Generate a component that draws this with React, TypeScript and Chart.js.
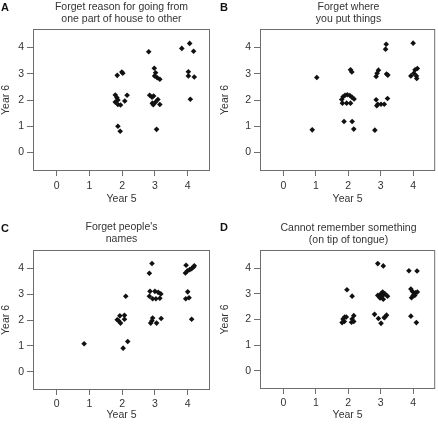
import React, { useEffect, useRef } from "react";
import { Chart, registerables } from "chart.js";

Chart.register(...registerables);

const TICKS = [0, 1, 2, 3, 4];
const X_TITLE = "Year 5";
const Y_TITLE = "Year 6";

const titleA = ["Forget reason for going from", "one part of house to other"];
const titleB = ["Forget where", "you put things"];
const titleC = ["Forget people's", "names"];
const titleD = ["Cannot remember something", "(on tip of tongue)"];

const aX = [2.81, 3.82, 4.06, 4.18, 1.85, 1.99, 2.02, 2.98, 3.02, 2.99, 3.07, 3.15, 4.02, 4.02, 4.2,
  1.79, 1.84, 1.87, 1.79, 1.87, 1.95, 2.08, 2.15,
  2.84, 2.91, 2.96, 3.09, 3.02, 2.95, 3.15, 2.92, 4.08, 1.87, 1.94, 3.05];
const aY = [3.84, 3.97, 4.16, 3.86, 2.94, 3.07, 3.02, 3.21, 3.04, 2.92, 2.85, 2.79, 3.08, 2.92, 2.88,
  2.19, 2.09, 2.0, 1.92, 1.83, 1.81, 1.96, 2.18,
  2.18, 2.11, 2.15, 2.02, 1.92, 1.82, 1.83, 1.88, 2.03, 1.0, 0.81, 0.88];

const bX = [3.17, 3.15, 4.0, 1.03, 2.07, 2.11, 2.93, 2.89, 2.86, 3.18, 3.22,
  3.93, 4.06, 4.13, 4.02, 4.1, 4.11,
  1.8, 1.84, 1.9, 1.97, 2.05, 2.12, 2.18, 1.82, 1.95, 2.07,
  2.86, 2.91, 2.88, 3.01, 3.11, 3.21,
  1.87, 2.12, 2.17, 0.89, 2.82];
const bY = [4.13, 3.94, 4.17, 2.86, 3.15, 3.07, 3.14, 3.02, 2.9, 2.99, 2.95,
  2.92, 3.15, 3.2, 3.02, 2.92, 2.82,
  2.02, 2.12, 2.18, 2.2, 2.17, 2.1, 2.04, 1.88, 1.88, 1.88,
  2.01, 1.84, 1.78, 1.84, 1.84, 2.06,
  1.18, 1.18, 0.89, 0.86, 0.85];

const cX = [2.91, 2.83, 3.95, 3.93, 3.99, 4.06, 4.12, 4.18, 4.2, 4.0, 3.94, 4.04, 4.12,
  2.85, 3.0, 3.1, 3.18, 2.83, 2.93, 3.03, 3.15,
  2.93, 2.87, 3.05, 3.19, 2.91,
  1.85, 1.93, 1.95, 2.07, 2.07, 1.89,
  2.11, 2.17, 2.03, 0.84];
const cY = [4.19, 3.81, 4.12, 3.82, 3.9, 3.95, 3.99, 4.05, 4.1, 3.09, 2.82, 2.86, 2.03,
  3.11, 3.11, 3.07, 3.01, 2.92, 2.82, 2.82, 2.84,
  2.08, 1.88, 1.88, 2.06, 1.97,
  2.01, 2.16, 1.88, 2.18, 2.03, 1.97,
  2.92, 1.17, 0.91, 1.08];

const dX = [2.91, 3.08, 3.87, 4.12, 1.96, 2.12,
  2.91, 3.0, 3.06, 3.13, 2.98, 3.08, 3.21, 3.06,
  3.93, 3.98, 4.07, 4.13, 4.0, 3.95, 4.05,
  1.81, 1.84, 1.89, 1.94, 1.88, 2.1, 2.12, 2.17, 2.17,
  2.81, 2.93, 3.01, 3.11, 3.18, 3.13,
  3.93, 4.1];
const dY = [4.18, 4.09, 3.9, 3.89, 3.16, 2.91,
  2.94, 2.99, 3.07, 3.0, 2.84, 2.79, 2.91, 2.94,
  3.19, 3.09, 3.04, 3.07, 2.94, 2.85, 2.94,
  1.88, 2.02, 2.1, 2.1, 1.92, 1.89, 2.02, 2.15, 1.92,
  2.2, 2.04, 1.85, 2.07, 2.17, 2.1,
  2.13, 1.88];

const FONT = "'Liberation Sans', Arial, Helvetica, sans-serif";
const W = 219;
const H = 213;

type Geo = { L: number; R: number; T: number; B: number; xPad: number; xTitlePad: number; titleTop: number; letterTop: number };

const boxPlugin = {
  id: "box",
  afterDraw(chart: any) {
    const { ctx, chartArea } = chart;
    ctx.save();
    ctx.strokeStyle = "#6e6e6e";
    ctx.lineWidth = 1;
    ctx.strokeRect(chartArea.left + 0.5, chartArea.top + 0.5, chartArea.right - chartArea.left - 1, chartArea.bottom - chartArea.top - 1);
    ctx.restore();
  },
};

function Panel({ letter, title, xs, ys, geo, left, top }: { letter: string; title: string[]; xs: number[]; ys: number[]; geo: Geo; left: number; top: number }) {
  const ref = useRef<HTMLCanvasElement>(null);
  useEffect(() => {
    const font = { family: FONT, size: 10.5 };
    const chart = new Chart(ref.current!, {
      type: "scatter",
      data: {
        datasets: [
          {
            data: xs.map((x, i) => ({ x, y: ys[i] })),
            pointStyle: "rectRot",
            pointRadius: 2.8,
            pointHoverRadius: 2.8,
            backgroundColor: "#111",
            borderColor: "#111",
            borderWidth: 0,
          },
        ],
      },
      options: {
        animation: false,
        responsive: false,
        devicePixelRatio: 1,
        layout: { padding: { left: 0, right: W - geo.R, top: geo.T, bottom: 0 } },
        plugins: { legend: { display: false }, tooltip: { enabled: false }, title: { display: false } },
        scales: {
          x: {
            type: "linear",
            min: -0.72,
            max: 4.68,
            afterBuildTicks: (s: any) => {
              s.ticks = TICKS.map((v) => ({ value: v }));
            },
            afterFit: (s: any) => {
              s.height = H - geo.B;
            },
            grid: { drawOnChartArea: false, drawTicks: true, tickLength: 5, color: "#6e6e6e" },
            border: { display: false },
            ticks: { font, color: "#333", padding: geo.xPad, maxRotation: 0 },
            title: { display: true, text: X_TITLE, font, color: "#333", padding: { top: 0, bottom: geo.xTitlePad } },
          },
          y: {
            type: "linear",
            min: -0.71,
            max: 4.71,
            afterBuildTicks: (s: any) => {
              s.ticks = TICKS.map((v) => ({ value: v }));
            },
            afterFit: (s: any) => {
              s.width = geo.L;
            },
            grid: { drawOnChartArea: false, drawTicks: true, tickLength: 6, color: "#6e6e6e" },
            border: { display: false },
            ticks: { font, color: "#333", padding: 3 },
            title: { display: true, text: Y_TITLE, font, color: "#333", padding: { top: 0, bottom: 0 } },
          },
        },
      },
      plugins: [boxPlugin],
    } as any);
    return () => chart.destroy();
  }, []);
  return (
    <div style={{ position: "absolute", left, top, width: W, height: H }}>
      <canvas ref={ref} width={W} height={H} style={{ position: "absolute", left: 0, top: 0, width: W, height: H }} />
      <div style={{ position: "absolute", left: 1, top: geo.letterTop, fontFamily: FONT, fontWeight: "bold", fontSize: 11, lineHeight: "12px", color: "#111" }}>{letter}</div>
      <div style={{ position: "absolute", left: geo.L, width: geo.R - geo.L, top: geo.titleTop, textAlign: "center", fontFamily: FONT, fontSize: 10.5, lineHeight: "12.3px", color: "#333", whiteSpace: "nowrap" }}>
        {title.map((t, i) => (
          <div key={i}>{t}</div>
        ))}
      </div>
    </div>
  );
}

const geoA: Geo = { L: 33, R: 210, T: 29, B: 171, xPad: 4, xTitlePad: 8, titleTop: 0, letterTop: 1 };
const geoB: Geo = { L: 41, R: 218, T: 29, B: 171, xPad: 4, xTitlePad: 8, titleTop: 0, letterTop: 1 };
const geoC: Geo = { L: 33, R: 210, T: 37, B: 177, xPad: 3, xTitlePad: 5, titleTop: 7, letterTop: 9 };
const geoD: Geo = { L: 41, R: 218, T: 37, B: 176, xPad: 3, xTitlePad: 5, titleTop: 8, letterTop: 8 };

export default function App() {
  return (
    <div style={{ position: "fixed", left: 0, top: 0, width: 438, height: 426, background: "#fff", overflow: "hidden" }}>
      <Panel letter="A" title={titleA} xs={aX} ys={aY} geo={geoA} left={0} top={0} />
      <Panel letter="B" title={titleB} xs={bX} ys={bY} geo={geoB} left={219} top={0} />
      <Panel letter="C" title={titleC} xs={cX} ys={cY} geo={geoC} left={0} top={213} />
      <Panel letter="D" title={titleD} xs={dX} ys={dY} geo={geoD} left={219} top={213} />
    </div>
  );
}
